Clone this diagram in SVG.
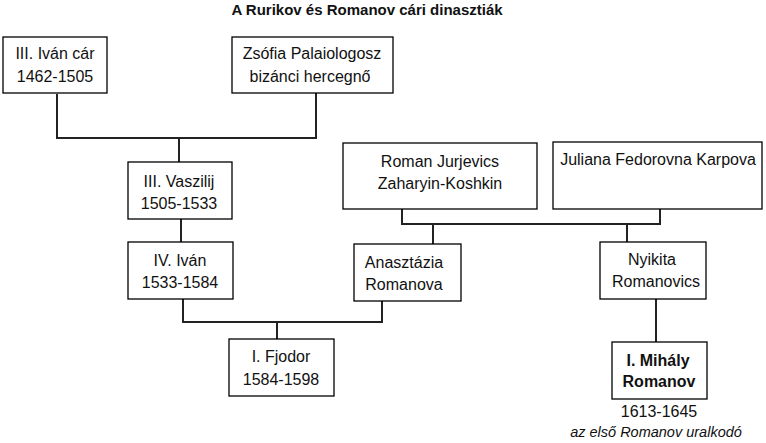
<svg xmlns="http://www.w3.org/2000/svg" width="766" height="443" viewBox="0 0 766 443">
<style>
.box{fill:#fff;stroke:#000;stroke-width:1.3}
.t{font-family:"Liberation Sans",Arial,sans-serif;font-size:16px;fill:#111;text-anchor:middle}
.b{font-weight:bold}
.c{fill:none;stroke:#222;stroke-width:2}
</style>
<rect width="766" height="443" fill="#fff"/>
<text x="367" y="15" class="t b" style="font-size:15px">A Rurikov és Romanov cári dinasztiák</text>
<g id="connectors">
<path class="c" d="M57,94 V138 H316 V93"/>
<path class="c" d="M179,138 V162"/>
<path class="c" d="M181,219 V242"/>
<path class="c" d="M183,299 V322 H382 V301"/>
<path class="c" d="M277,322 V339"/>
<path class="c" d="M402,209 V224 H660 V208"/>
<path class="c" d="M433,224 V244"/>
<path class="c" d="M627,224 V242"/>
<path class="c" d="M656,299 V342"/>
</g>
<g id="ivan3">
<rect class="box" x="3" y="37" width="104" height="56"/>
<text class="t" x="55" y="59">III. Iván cár</text>
<text class="t" x="55" y="82">1462-1505</text>
</g>
<g id="zsofia">
<rect class="box" x="232" y="37" width="161" height="56"/>
<text class="t" x="312" y="59">Zsófia Palaiologosz</text>
<text class="t" x="310" y="82">bizánci hercegnő</text>
</g>
<g id="vaszilij">
<rect class="box" x="128" y="162" width="104" height="57"/>
<text class="t" x="179" y="187">III. Vaszilij</text>
<text class="t" x="179" y="209">1505-1533</text>
</g>
<g id="ivan4">
<rect class="box" x="128" y="242" width="105" height="57"/>
<text class="t" x="180" y="266">IV. Iván</text>
<text class="t" x="180" y="288">1533-1584</text>
</g>
<g id="fjodor">
<rect class="box" x="229" y="339" width="105" height="57"/>
<text class="t" x="281" y="362">I. Fjodor</text>
<text class="t" x="281" y="385">1584-1598</text>
</g>
<g id="roman">
<rect class="box" x="343" y="143" width="194" height="66"/>
<text class="t" x="440" y="167">Roman Jurjevics</text>
<text class="t" x="440" y="189">Zaharyin-Koshkin</text>
</g>
<g id="juliana">
<rect class="box" x="553" y="142" width="209" height="67"/>
<text class="t" x="658" y="165">Juliana Fedorovna Karpova</text>
</g>
<g id="anasztazia">
<rect class="box" x="354" y="244" width="107" height="57"/>
<text class="t" x="404" y="268">Anasztázia</text>
<text class="t" x="404" y="290">Romanova</text>
</g>
<g id="nyikita">
<rect class="box" x="600" y="242" width="106" height="57"/>
<text class="t" x="652" y="265">Nyikita</text>
<text class="t" x="656" y="287">Romanovics</text>
</g>
<g id="mihaly">
<rect class="box" x="612" y="342" width="95" height="57"/>
<text class="t b" x="658" y="366">I. Mihály</text>
<text class="t b" x="659" y="387">Romanov</text>
<text class="t" x="659" y="417">1613-1645</text>
<text class="t" x="656" y="437" style="font-size:14.5px;font-style:italic">az első Romanov uralkodó</text>
</g>
</svg>
